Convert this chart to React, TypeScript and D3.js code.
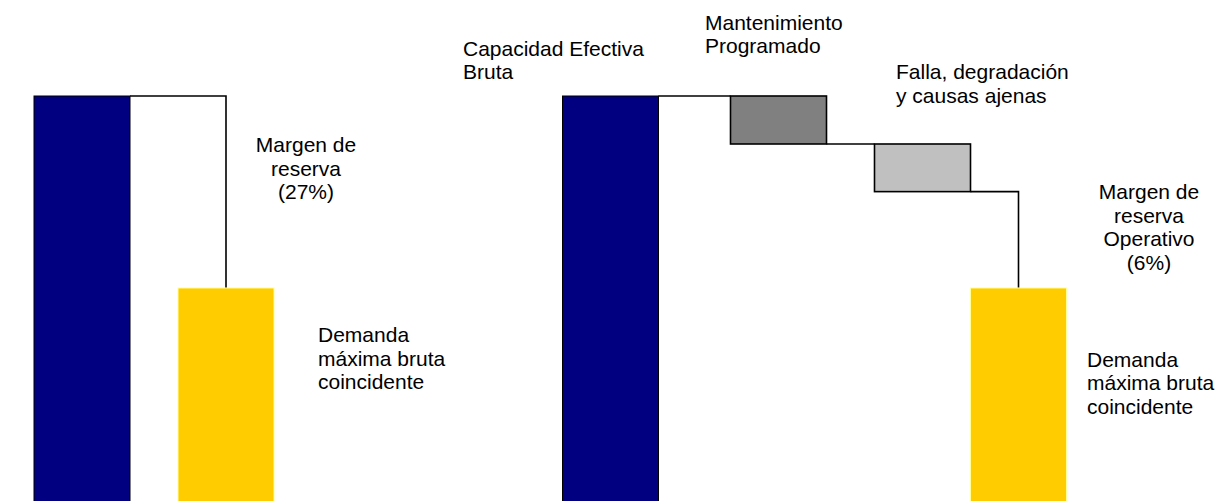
import React from "react";
import * as d3 from "d3";

// ---- Data ----
const leftCategories = ["Capacidad Efectiva Bruta", "Margen de reserva (27%)", "Demanda máxima bruta coincidente"];
const leftValues = [127, 27, 100];

const rightCategories = [
  "Capacidad Efectiva Bruta",
  "Mantenimiento Programado",
  "Falla, degradación y causas ajenas",
  "Margen de reserva Operativo (6%)",
  "Demanda máxima bruta coincidente",
];
const rightValues = [127, 6.75, 6.7, 13.55, 100];

const leftLabelLines = [["Margen de", "reserva", "(27%)"], ["Demanda", "máxima bruta", "coincidente"]];
const rightLabelLines = [
  ["Capacidad Efectiva", "Bruta"],
  ["Mantenimiento", "Programado"],
  ["Falla, degradación", "y causas ajenas"],
  ["Margen de", "reserva", "Operativo", "(6%)"],
  ["Demanda", "máxima bruta", "coincidente"],
];

// ---- Layout ----
const W = 1216;
const H = 501;
const FONT = "'Liberation Sans', Arial, Helvetica, sans-serif";
const FS = 21;
const LH = 23.5;
const NAVY = "#000080";
const DGRAY = "#808080";
const LGRAY = "#C0C0C0";
const YELLOW = "#FFCC00";

const y = d3.scaleLinear().domain([0, 127]).range([999, 96]);
const xL = d3.scaleLinear().domain([0, 1]).range([34, 130]);
const xR = d3.scaleLinear().domain([0, 1]).range([562.5, 658.5]);

function Lines({ x, y0, lines, anchor }: { x: number; y0: number; lines: string[]; anchor: string }) {
  return (
    <text x={x} y={y0} fontFamily={FONT} fontSize={FS} fill="#000" textAnchor={anchor}>
      {lines.map((l, i) => (
        <tspan key={i} x={x} y={y0 + i * LH}>
          {l}
        </tspan>
      ))}
    </text>
  );
}

export default function App() {
  // Left panel
  const capL = leftValues[0];
  const demL = leftValues[2];
  const marginPath = d3.path();
  marginPath.moveTo(xL(1), y(capL));
  marginPath.lineTo(xL(2), y(capL));
  marginPath.lineTo(xL(2), y(demL));

  // Right panel
  const cap = rightValues[0];
  const afterMant = cap - rightValues[1];
  const afterFalla = afterMant - rightValues[2];
  const dem = rightValues[4];
  const mantX = [1.75, 2.75];
  const fallaX = [3.25, 4.25];
  const demX = [4.25, 5.25];

  const c1 = d3.path();
  c1.moveTo(xR(1), y(cap));
  c1.lineTo(xR(mantX[0]), y(cap));
  const c2 = d3.path();
  c2.moveTo(xR(mantX[1]), y(afterMant));
  c2.lineTo(xR(fallaX[0]), y(afterMant));
  const c3 = d3.path();
  c3.moveTo(xR(fallaX[1]), y(afterFalla));
  c3.lineTo(xR((demX[0] + demX[1]) / 2), y(afterFalla));
  c3.lineTo(xR((demX[0] + demX[1]) / 2), y(dem));

  return (
    <svg
      width={W}
      height={H}
      style={{ position: "absolute", left: 0, top: 0, background: "#fff" }}
      aria-label={leftCategories.concat(rightCategories).join(", ")}
    >
      {/* Left panel */}
      <rect x={xL(0)} y={y(capL)} width={xL(1) - xL(0)} height={y(0) - y(capL)} fill={NAVY} stroke="#000" strokeWidth={1} />
      <path d={marginPath.toString()} fill="none" stroke="#000" strokeWidth={1.6} />
      <rect x={xL(1.5)} y={y(demL)} width={xL(2.5) - xL(1.5)} height={y(0) - y(demL)} fill={YELLOW} stroke="#FFFF99" strokeWidth={1} />

      <Lines x={306} y0={152} lines={leftLabelLines[0]} anchor="middle" />
      <Lines x={318} y0={342} lines={leftLabelLines[1]} anchor="start" />

      {/* Right panel */}
      <rect x={xR(0)} y={y(cap)} width={xR(1) - xR(0)} height={y(0) - y(cap)} fill={NAVY} stroke="#000" strokeWidth={1} />
      <path d={c1.toString()} fill="none" stroke="#000" strokeWidth={1.6} />
      <rect
        x={xR(mantX[0])}
        y={y(cap)}
        width={xR(mantX[1]) - xR(mantX[0])}
        height={y(afterMant) - y(cap)}
        fill={DGRAY}
        stroke="#000"
        strokeWidth={1.6}
      />
      <path d={c2.toString()} fill="none" stroke="#000" strokeWidth={1.6} />
      <rect
        x={xR(fallaX[0])}
        y={y(afterMant)}
        width={xR(fallaX[1]) - xR(fallaX[0])}
        height={y(afterFalla) - y(afterMant)}
        fill={LGRAY}
        stroke="#000"
        strokeWidth={1.6}
      />
      <path d={c3.toString()} fill="none" stroke="#000" strokeWidth={1.6} />
      <rect
        x={xR(demX[0])}
        y={y(dem)}
        width={xR(demX[1]) - xR(demX[0])}
        height={y(0) - y(dem)}
        fill={YELLOW}
        stroke="#FFFF99"
        strokeWidth={1}
      />

      <Lines x={463} y0={55.5} lines={rightLabelLines[0]} anchor="start" />
      <Lines x={705} y0={29.5} lines={rightLabelLines[1]} anchor="start" />
      <Lines x={896} y0={79} lines={rightLabelLines[2]} anchor="start" />
      <Lines x={1149} y0={199} lines={rightLabelLines[3]} anchor="middle" />
      <Lines x={1087} y0={366.5} lines={rightLabelLines[4]} anchor="start" />
    </svg>
  );
}
